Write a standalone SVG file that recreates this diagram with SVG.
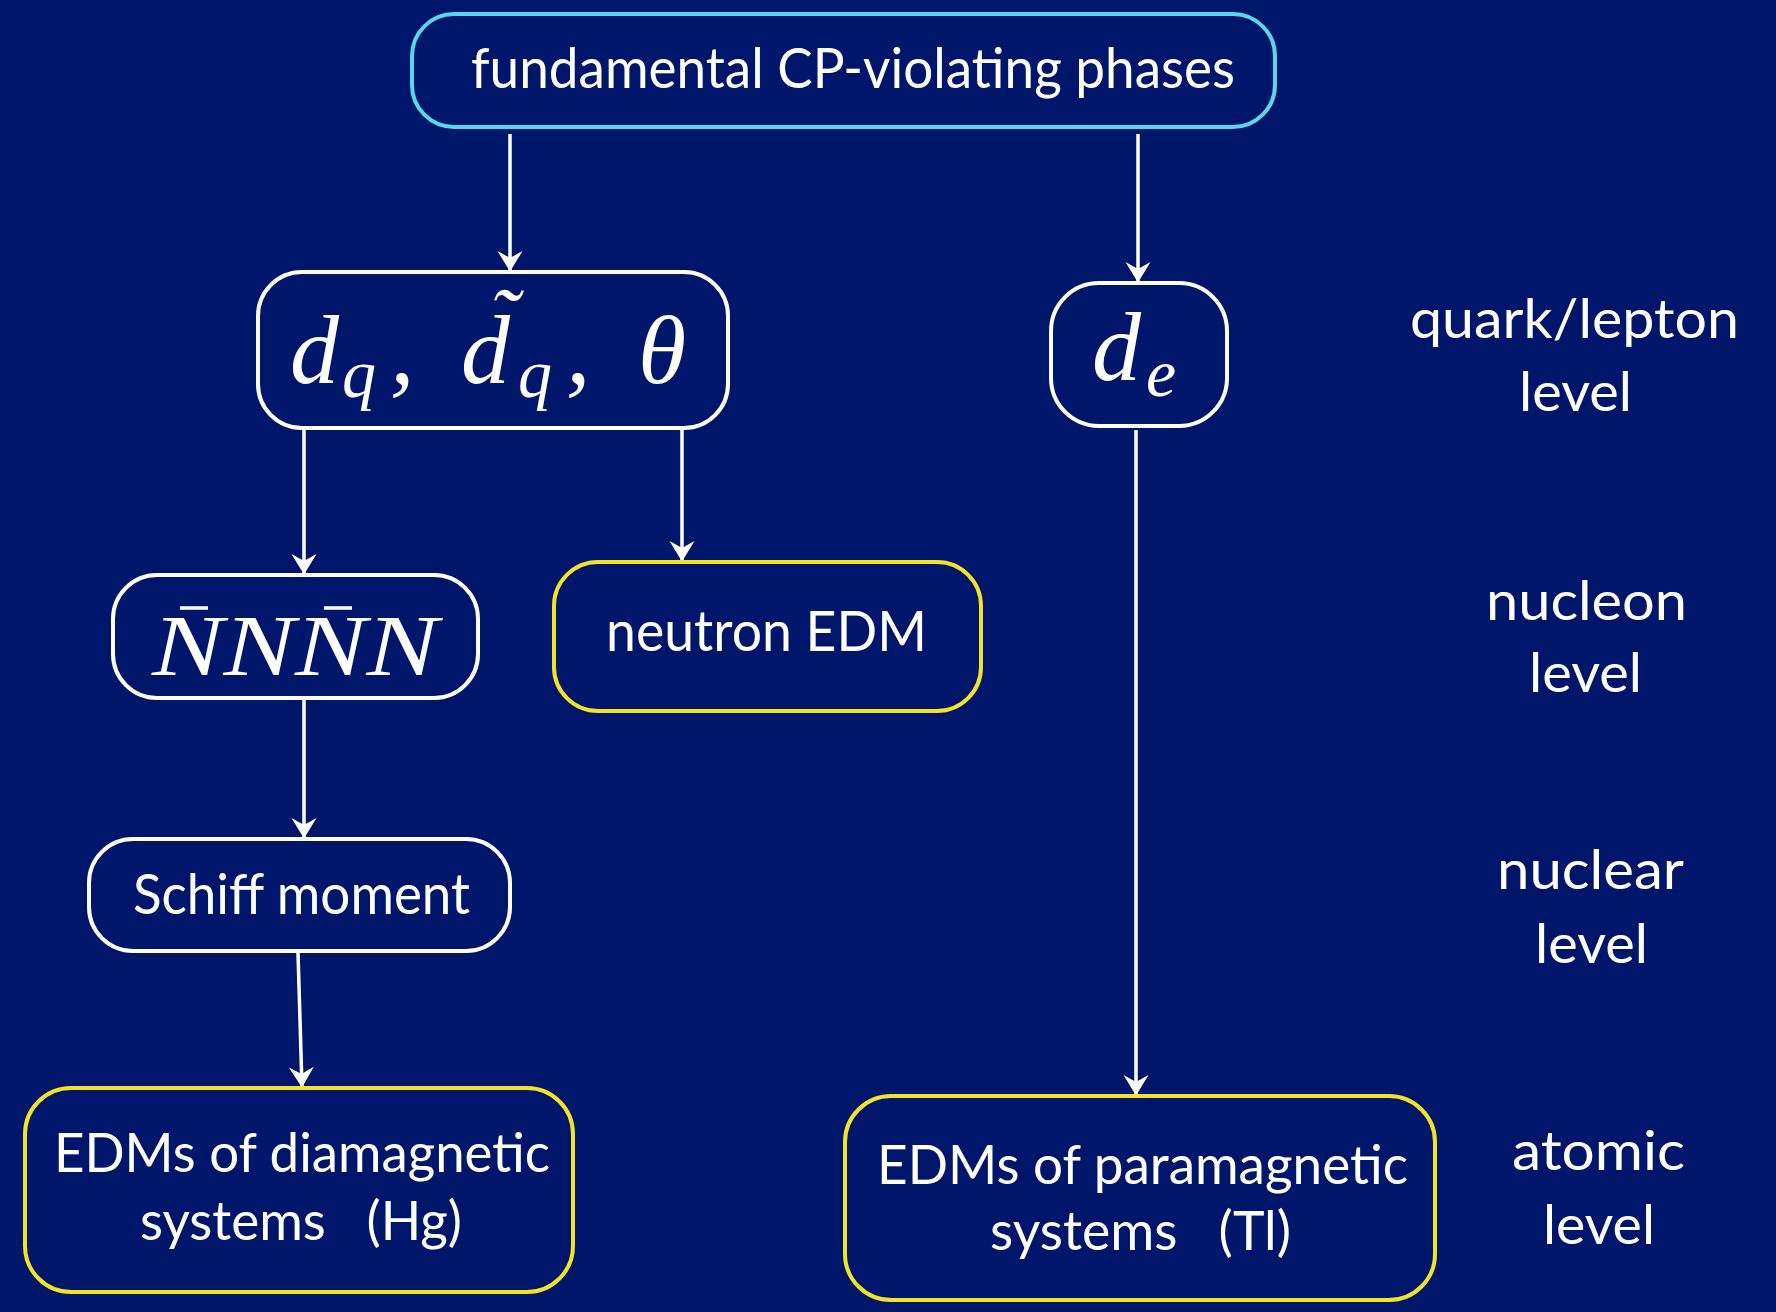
<svg xmlns="http://www.w3.org/2000/svg" width="1776" height="1312" viewBox="0 0 1776 1312">
  <defs>
    <!-- barbed arrowhead used by every connector -->
    <marker id="arrow" markerUnits="userSpaceOnUse" markerWidth="21" markerHeight="26" viewBox="0 0 21 26" refX="20" refY="13" orient="auto">
      <path d="M0,0.5 L20.5,13 L0,25.5 L7,13 Z" fill="#ffffff"/>
    </marker>
    <style>
      .box { fill: #00166a; stroke-width: 4; }
      .white { stroke: #ffffff; }
      .cyan { stroke: #58d6ea; }
      .yellow { stroke: #f0e32a; }
      .lbl { font-family: Lato, "Open Sans", "Liberation Sans", sans-serif; fill: #ffffff; }
      .math { font-family: "Liberation Serif", "DejaVu Serif", serif; font-style: italic; fill: #ffffff; }
      .edge { stroke: #ffffff; stroke-width: 3.5; fill: none; marker-end: url(#arrow); }
    </style>
  </defs>

  <rect x="0" y="0" width="1776" height="1312" fill="#00166a"/>

  <!-- connectors -->
  <g id="connectors">
    <line class="edge" x1="510" y1="134" x2="510" y2="271"/>
    <line class="edge" x1="1138" y1="134" x2="1138" y2="282"/>
    <line class="edge" x1="304" y1="430" x2="304" y2="574"/>
    <line class="edge" x1="682" y1="430" x2="682" y2="561"/>
    <line class="edge" x1="304" y1="700" x2="304" y2="838"/>
    <line class="edge" x1="298" y1="953" x2="302" y2="1087"/>
    <line class="edge" x1="1136" y1="430" x2="1136" y2="1095"/>
  </g>

  <!-- top: fundamental phases -->
  <g id="phases">
    <rect class="box cyan" x="412" y="14" width="863" height="113" rx="42"/>
    <text class="lbl" x="471" y="88" font-size="56" textLength="764" lengthAdjust="spacingAndGlyphs">fundamental CP-violating phases</text>
  </g>

  <!-- quark-level couplings -->
  <g id="quark">
    <rect class="box white" x="258" y="272" width="470" height="156" rx="44"/>
    <text class="math" font-size="98"><tspan x="290" y="383">d</tspan><tspan x="342" y="397" font-size="68">q</tspan><tspan x="390" y="383">,</tspan><tspan x="461" y="383">d</tspan><tspan x="489" y="350" font-size="88">˜</tspan><tspan x="518" y="397" font-size="68">q</tspan><tspan x="566" y="383">,</tspan><tspan x="638" y="383">θ</tspan></text>
  </g>

  <!-- electron EDM -->
  <g id="electron">
    <rect class="box white" x="1051" y="283" width="176" height="143" rx="48"/>
    <text class="math" font-size="98"><tspan x="1092" y="380">d</tspan><tspan x="1146" y="396" font-size="68">e</tspan></text>
  </g>

  <!-- nucleon-nucleon interaction -->
  <g id="nucleon">
    <rect class="box white" x="113" y="575" width="365" height="123" rx="44"/>
    <text class="math" x="152" y="675" font-size="86" textLength="286" lengthAdjust="spacingAndGlyphs">NNNN</text>
    <line x1="180" y1="608" x2="208" y2="608" stroke="#ffffff" stroke-width="3.5"/>
    <line x1="324" y1="608" x2="352" y2="608" stroke="#ffffff" stroke-width="3.5"/>
  </g>

  <!-- neutron EDM -->
  <g id="neutron">
    <rect class="box yellow" x="554" y="562" width="427" height="149" rx="44"/>
    <text class="lbl" x="606" y="651" font-size="56" textLength="321" lengthAdjust="spacingAndGlyphs">neutron EDM</text>
  </g>

  <!-- Schiff moment -->
  <g id="schiff">
    <rect class="box white" x="89" y="839" width="421" height="112" rx="44"/>
    <text class="lbl" x="133" y="914" font-size="56" textLength="337" lengthAdjust="spacingAndGlyphs">Schiff moment</text>
  </g>

  <!-- diamagnetic atoms -->
  <g id="diamagnetic">
    <rect class="box yellow" x="25" y="1088" width="548" height="204" rx="46"/>
    <text class="lbl" x="54" y="1172" font-size="54" textLength="496" lengthAdjust="spacingAndGlyphs">EDMs of diamagnetic</text>
    <text class="lbl" x="140" y="1240" font-size="54" textLength="322" lengthAdjust="spacingAndGlyphs" xml:space="preserve">systems   (Hg)</text>
  </g>

  <!-- paramagnetic atoms -->
  <g id="paramagnetic">
    <rect class="box yellow" x="845" y="1096" width="590" height="204" rx="46"/>
    <text class="lbl" x="877" y="1184" font-size="54" textLength="531" lengthAdjust="spacingAndGlyphs">EDMs of paramagnetic</text>
    <text class="lbl" x="990" y="1250" font-size="54" textLength="301" lengthAdjust="spacingAndGlyphs" xml:space="preserve">systems   (Tl)</text>
  </g>

  <!-- level labels -->
  <g id="levels">
    <text class="lbl" x="1410" y="338" font-size="54" textLength="329" lengthAdjust="spacingAndGlyphs">quark/lepton</text>
    <text class="lbl" x="1519" y="411" font-size="54" textLength="113" lengthAdjust="spacingAndGlyphs">level</text>
    <text class="lbl" x="1486" y="620" font-size="54" textLength="201" lengthAdjust="spacingAndGlyphs">nucleon</text>
    <text class="lbl" x="1529" y="692" font-size="54" textLength="113" lengthAdjust="spacingAndGlyphs">level</text>
    <text class="lbl" x="1497" y="889" font-size="54" textLength="187" lengthAdjust="spacingAndGlyphs">nuclear</text>
    <text class="lbl" x="1535" y="963" font-size="54" textLength="113" lengthAdjust="spacingAndGlyphs">level</text>
    <text class="lbl" x="1512" y="1170" font-size="54" textLength="173" lengthAdjust="spacingAndGlyphs">atomic</text>
    <text class="lbl" x="1543" y="1244" font-size="54" textLength="112" lengthAdjust="spacingAndGlyphs">level</text>
  </g>
</svg>
